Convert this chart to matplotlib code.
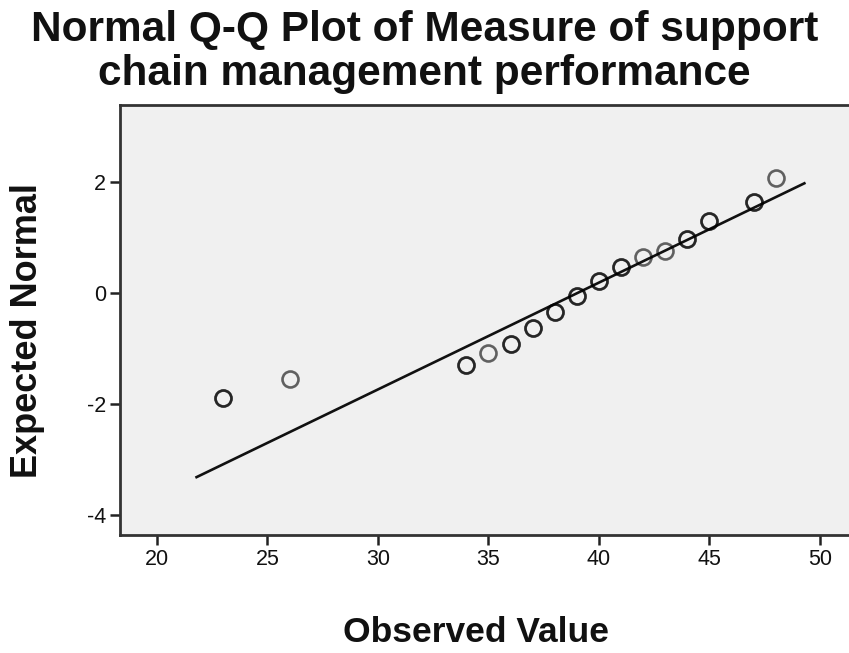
"""Normal Q-Q plot of the support chain management performance measure (SPSS style)."""

import matplotlib

matplotlib.use("Agg")
import matplotlib.pyplot as plt
import numpy as np

plt.rcParams["font.family"] = ["Liberation Sans", "DejaVu Sans"]
plt.rcParams["axes.unicode_minus"] = False

# Observed values, expected normal quantiles, and how many cases overlap at each point
observed = [23, 26, 34, 35, 36, 37, 38, 39, 40, 41, 42, 43, 44, 45, 47, 48]
expected = [-1.89, -1.56, -1.30, -1.09, -0.93, -0.63, -0.34, -0.05,
            0.22, 0.47, 0.65, 0.76, 0.96, 1.29, 1.64, 2.06]
overlap = [2, 1, 2, 1, 2, 2, 2, 2, 2, 2, 1, 1, 2, 2, 2, 1]

# Reference line parameters (sample mean / sd) and its drawn x range
line_mean = 39.05
line_sd = 5.2
line_x = [21.74, 49.35]

x_ticks = [20, 25, 30, 35, 40, 45, 50]
y_ticks = [-4, -2, 0, 2]

W, H = 849, 653
fig = plt.figure(figsize=(W / 100, H / 100), dpi=100)
fig.patch.set_facecolor("white")

left, right, top, bottom = 120, 851, 105, 535
ax = fig.add_axes([left / W, 1 - bottom / H, (right - left) / W, (bottom - top) / H])
ax.set_facecolor("#f0f0f0")

ax.set_xlim(18.33, 18.33 + (right - left) / 22.1)
ax.set_ylim(-4.36, 3.38)

# reference line
lx = np.array(line_x)
ax.plot(lx, (lx - line_mean) / line_sd, color="#111111", linewidth=1.9,
        solid_capstyle="butt", zorder=2)

# points: overlapping cases are drawn on top of each other so they look darker
for xv, yv, n in zip(observed, expected, overlap):
    for _ in range(n):
        ax.plot(xv, yv, marker="o", markersize=11.5, markerfacecolor="none",
                markeredgecolor="black", markeredgewidth=1.9, alpha=0.6,
                linestyle="none", zorder=3)

ax.set_xticks(x_ticks)
ax.set_yticks(y_ticks)
ax.tick_params(axis="both", direction="out", length=7, width=1.8, color="#222222",
               labelsize=15.5, labelcolor="#111111", pad=3)

for side in ("left", "bottom", "top"):
    ax.spines[side].set_linewidth(2.0)
    ax.spines[side].set_color("#333333")
ax.spines["right"].set_visible(False)

fig.text(0.5, 1 - 10 / H, "Normal Q-Q Plot of Measure of support\nchain management performance",
         ha="center", va="top", fontsize=30.5, fontweight="bold", linespacing=1.12,
         color="#111111")
fig.text(476 / W, 1 - 633 / H, "Observed Value", ha="center", va="center",
         fontsize=25.5, fontweight="bold", color="#111111")
fig.text(28 / W, 1 - 331 / H, "Expected Normal", ha="center", va="center",
         rotation=90, fontsize=26, fontweight="bold", color="#111111")

fig.savefig("out.png", dpi=100)
